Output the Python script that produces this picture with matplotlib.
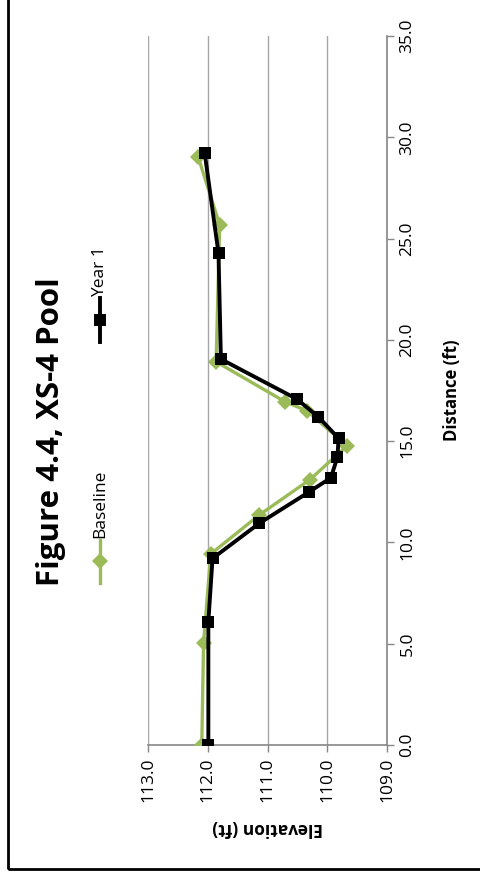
import matplotlib.pyplot as plt
from matplotlib.lines import Line2D
from matplotlib.patches import Rectangle

plt.rcParams['font.family'] = ['Open Sans', 'DejaVu Sans']

# Survey data (chart is drawn rotated: elevation across, distance up)
base_dist = [0.0, 5.05, 9.43, 11.35, 13.1, 14.77, 16.5, 16.95, 18.92, 25.67, 29.03]
base_elev = [112.10, 112.07, 111.95, 111.14, 110.29, 109.67, 110.34, 110.71, 111.86, 111.80, 112.16]

yr1_dist = [0.0, 6.09, 9.21, 10.94, 12.5, 13.19, 14.2, 15.14, 16.2, 17.08, 19.05, 24.27, 29.2]
yr1_elev = [111.99, 111.99, 111.92, 111.14, 110.30, 109.94, 109.83, 109.81, 110.15, 110.51, 111.78, 111.82, 112.05]

elev_ticks = [113.0, 112.0, 111.0, 110.0, 109.0]
dist_ticks = [0.0, 5.0, 10.0, 15.0, 20.0, 25.0, 30.0, 35.0]

green = '#9bbb59'
grid_c = '#a6a6a6'
axis_c = '#868686'

fig = plt.figure(figsize=(4.8, 8.8), dpi=100)
ax = fig.add_axes([148 / 480, 1 - 745 / 880, (387 - 148) / 480, (745 - 36) / 880])

ax.plot(base_elev, base_dist, color=green, lw=2.4, marker='D', ms=8.5,
        markeredgewidth=0, zorder=3)
ax.plot(yr1_elev, yr1_dist, color='black', lw=2.8, marker='s', ms=8.5,
        markeredgewidth=0, zorder=4)

ax.set_xlim(113, 109)
ax.set_ylim(0, 35)
ax.set_xticks(elev_ticks)
ax.set_xticklabels([f'{v:.1f}' for v in elev_ticks], rotation=90, fontsize=12.5)
ax.set_yticks(dist_ticks)
ax.yaxis.tick_right()
ax.set_yticklabels([f'{v:.1f}' for v in dist_ticks], rotation=90, va='center', fontsize=12.5)
ax.tick_params(axis='both', direction='out', length=5, width=1, color=axis_c, pad=4)

ax.grid(axis='x', color=grid_c, lw=1)
ax.set_axisbelow(True)
for s in ['top', 'left']:
    ax.spines[s].set_visible(False)
for s in ['bottom', 'right']:
    ax.spines[s].set_color(axis_c)
    ax.spines[s].set_linewidth(1.2)

ax.set_xlabel('Elevation (ft)', fontsize=12.5, fontweight='bold', rotation=180, labelpad=12)
ax.yaxis.set_label_position('right')
ax.set_ylabel('Distance (ft)', fontsize=12, fontweight='bold', rotation=90, labelpad=20)

# title, rotated with the chart
fig.text(51 / 480, 1 - 432 / 880, 'Figure 4.4, XS-4 Pool', rotation=90,
         fontsize=22.5, fontweight='bold', ha='center', va='center')

# legend, drawn by hand because it is rotated
xl = 100 / 480
fig.add_artist(Line2D([xl, xl], [1 - 583 / 880, 1 - 540 / 880], color=green, lw=2.4,
                      transform=fig.transFigure))
fig.add_artist(Line2D([xl], [1 - 561 / 880], color=green, marker='D', ms=8.5,
                      markeredgewidth=0, transform=fig.transFigure))
fig.text(xl, 1 - 538 / 880, 'Baseline', rotation=90, fontsize=12.5,
         ha='center', va='bottom')
fig.add_artist(Line2D([xl, xl], [1 - 342 / 880, 1 - 298 / 880], color='black', lw=2.8,
                      transform=fig.transFigure))
fig.add_artist(Line2D([xl], [1 - 320 / 880], color='black', marker='s', ms=8.5,
                      markeredgewidth=0, transform=fig.transFigure))
fig.text(xl, 1 - 297 / 880, 'Year 1', rotation=90, fontsize=12.5,
         ha='center', va='bottom')

# outer frame
fig.add_artist(Rectangle((8 / 480, 1 - 869 / 880), 1.0, 1.0, fill=False,
                         edgecolor='black', lw=2, transform=fig.transFigure))

fig.savefig('out.png', dpi=100)
